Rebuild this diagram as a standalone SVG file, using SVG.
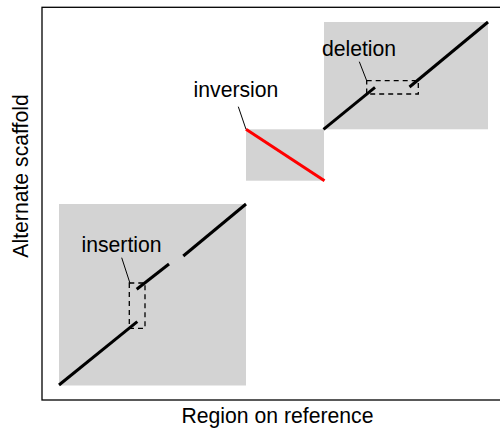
<svg xmlns="http://www.w3.org/2000/svg" width="500" height="432" viewBox="0 0 500 432">
<style>
.box{fill:#d3d3d3;stroke:none}
.seg{stroke:#000;stroke-width:3;fill:none;stroke-linecap:butt}
.inv{stroke:#ff0000;stroke-width:3;fill:none}
.dash{stroke:#000;stroke-width:1.3;fill:none;stroke-dasharray:5,4}
.lead{stroke:#000;stroke-width:1;fill:none}
text{font-family:"Liberation Sans",Arial,sans-serif;font-size:21.2px;fill:#000}
</style>
<rect width="500" height="432" fill="#fff"/>
<rect id="frame" x="42" y="7.3" width="470" height="392.7" fill="none" stroke="#000" stroke-width="1.3"/>
<g id="region-insertion">
<rect class="box" x="59" y="204" width="187" height="181.5"/>
<rect class="dash" x="129.3" y="283" width="15.7" height="45.3"/>
<text x="121.5" y="251.5" text-anchor="middle">insertion</text>
</g>
<g id="region-inversion">
<rect class="box" x="246" y="129.3" width="78" height="51.4"/>
<text x="236" y="97" text-anchor="middle">inversion</text>
</g>
<g id="region-deletion">
<rect class="box" x="324" y="22" width="164" height="107.3"/>
<rect class="dash" x="366.7" y="80.7" width="51.6" height="13.3"/>
<text x="359" y="56" text-anchor="middle">deletion</text>
</g>
<g id="connectors">
<line class="seg" x1="59" y1="385" x2="137.3" y2="321.7"/>
<line class="seg" x1="136.7" y1="289.3" x2="169" y2="264"/>
<line class="seg" x1="183.3" y1="256" x2="246" y2="204"/>
<line class="inv" x1="246" y1="129.3" x2="324.5" y2="180.7"/>
<line class="seg" x1="323.5" y1="129.3" x2="375" y2="87.3"/>
<line class="seg" x1="409.5" y1="87" x2="488" y2="22"/>
<line class="lead" x1="121.7" y1="257.7" x2="130" y2="283.3"/>
<line class="lead" x1="238.3" y1="106.7" x2="246" y2="129.3"/>
<line class="lead" x1="359.3" y1="61.7" x2="366.7" y2="80.7"/>
</g>
<text x="277.5" y="423" text-anchor="middle">Region on reference</text>
<text transform="translate(27.5,176) rotate(-90)" text-anchor="middle">Alternate scaffold</text>
</svg>
